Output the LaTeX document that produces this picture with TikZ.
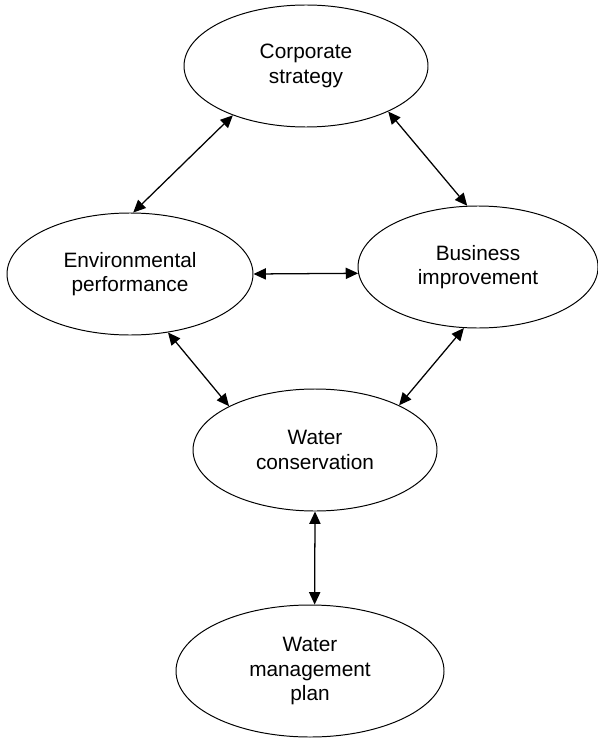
\documentclass[tikz,border=0pt]{standalone}
\usepackage{fontspec}
\setmainfont{Liberation Sans}
\usetikzlibrary{shapes.geometric,arrows.meta}
\begin{document}
\begin{tikzpicture}[
        topic/.style={draw, ellipse, line width=.7pt, inner sep=0pt, minimum width=6.1cm, minimum height=3.05cm, align=center, font=\fontsize{14.8}{17.3}\selectfont},
        link/.style={line width=.9pt, {Triangle[length=3.1mm,width=2.8mm]}-{Triangle[length=3.1mm,width=2.8mm]}}]
            \useasboundingbox (0, 0) rectangle (14.925, -18.45);
            \node [topic] (corp) at (7.65, -1.65) {Corporate\\strategy};
            \node [topic, minimum width=6.15cm] (env) at (3.25, -6.85) {Environmental\\performance};
            \node [topic, minimum width=6cm] (biz) at (11.95, -6.675) {Business\\improvement};
            \node [topic] (cons) at (7.875, -11.25) {Water\\conservation};
            \node [topic, minimum width=6.7cm, minimum height=3.3cm] (plan) at (7.75, -16.775) {Water\\management\\plan};
            \draw [link] (env.87) -- (corp.214);
            \draw [link] (corp.331) -- (biz.100);
            \draw [link] (env.east) -- (biz.183);
            \draw [link] (env.303) -- (cons.153);
            \draw [link] (biz.257) -- (cons.28);
            \draw [link] (cons.south) -- (plan.86);
        \end{tikzpicture}
\end{document}
